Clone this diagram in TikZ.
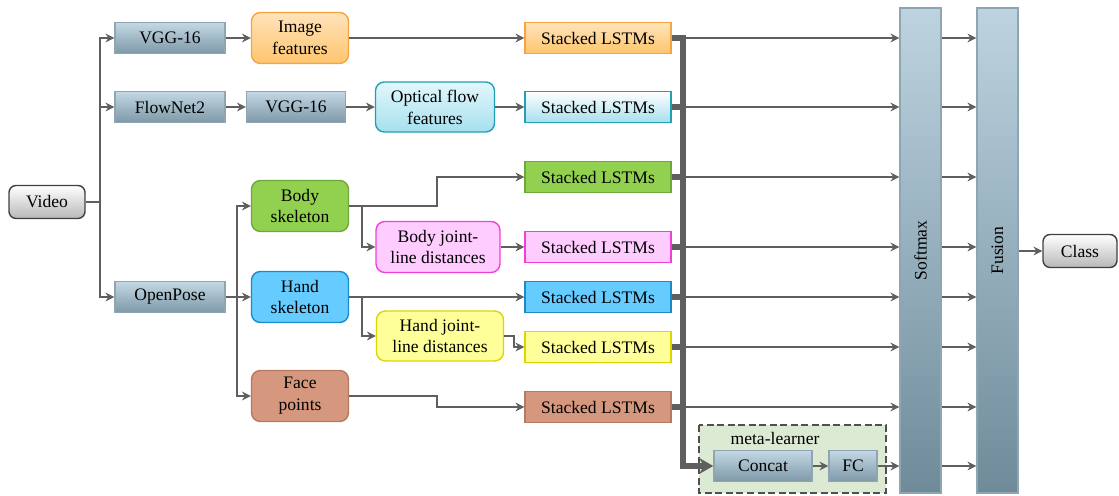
\documentclass[tikz,border=0pt]{standalone}
\usepackage{fontspec}
\setmainfont{Liberation Serif}
\usetikzlibrary{arrows.meta}

\definecolor{lineg}{HTML}{5F5F5F}
\definecolor{nettop}{HTML}{C3D8E4}
\definecolor{netbot}{HTML}{7E99A8}
\definecolor{netedge}{HTML}{8FA6B2}
\definecolor{bartop}{HTML}{BDD3E0}
\definecolor{barbot}{HTML}{6F8B9A}
\definecolor{orgtop}{HTML}{FFE3BA}
\definecolor{orgbot}{HTML}{FFC56E}
\definecolor{orgedge}{HTML}{F7A440}
\definecolor{cyantop}{HTML}{E2F7FC}
\definecolor{cyanbot}{HTML}{A6E0EE}
\definecolor{cyanedge}{HTML}{1FA0B3}
\definecolor{grnfill}{HTML}{92D050}
\definecolor{grnedge}{HTML}{6FA83A}
\definecolor{pnkfill}{HTML}{FFCCFF}
\definecolor{pnkedge}{HTML}{F040D8}
\definecolor{blufill}{HTML}{66CCFF}
\definecolor{bluedge}{HTML}{1A8AC8}
\definecolor{yelfill}{HTML}{FFFF99}
\definecolor{yeledge}{HTML}{DDD400}
\definecolor{brnfill}{HTML}{D5977D}
\definecolor{brnedge}{HTML}{B57A62}
\definecolor{endbot}{HTML}{B8B8B8}
\definecolor{endedge}{HTML}{404040}
\definecolor{metafill}{HTML}{DDEAD3}
\definecolor{metaedge}{HTML}{505050}

\tikzset{
  lbl/.style={inner sep=0pt, align=center, font=\fontsize{10}{12.5}\selectfont, text=black},
  box/.style={lbl, draw},
  netbox/.style={box, draw=netedge, top color=nettop, bottom color=netbot,
    minimum width=2.2cm, minimum height=0.62cm, line width=0.8pt},
  featbox/.style={box, rounded corners=5pt, minimum width=1.94cm, minimum height=1.02cm, line width=0.8pt},
  lstm/.style={box, minimum width=2.92cm, minimum height=0.62cm, line width=0.8pt},
  endbox/.style={box, draw=endedge, rounded corners=4pt, top color=white, bottom color=endbot,
    minimum width=1.52cm, minimum height=0.66cm, line width=0.8pt},
  bar/.style={draw=netedge, top color=bartop, bottom color=barbot, minimum width=0.82cm,
    minimum height=9.7cm, inner sep=0pt, line width=0.8pt},
  metabox/.style={draw=metaedge, fill=metafill, line width=1pt, dash pattern=on 4pt off 2pt},
  line/.style={draw=lineg, line width=1pt},
  arr/.style={line, -{Stealth[length=5pt,width=5pt]}},
  bus/.style={draw=lineg, line width=3pt},
}

\begin{document}
\begin{tikzpicture}[x=0.02cm, y=-0.02cm]
    \useasboundingbox (0,0) rectangle (1119,496);

    % input and first stage
    \node[endbox] (video) at (47,202) {Video};
    \node[netbox] (vgg) at (170,38) {VGG-16};
    \node[netbox] (flownet) at (170,107) {FlowNet2};
    \node[netbox, minimum width=1.98cm] (vggflow) at (296,107) {VGG-16};
    \node[netbox] (openpose) at (170,297) {OpenPose};

    % features
    \node[featbox, draw=orgedge, top color=orgtop, bottom color=orgbot] (imgfeat) at (300,38) {Image\\features};
    \node[featbox, draw=cyanedge, top color=cyantop, bottom color=cyanbot, minimum width=2.38cm, minimum height=1cm] (flowfeat) at (435,107) {Optical flow\\features};
    \node[featbox, draw=grnedge, fill=grnfill] (bodysk) at (300,206) {Body\\skeleton};
    \node[featbox, draw=pnkedge, fill=pnkfill, minimum width=2.48cm] (bodyjl) at (438,247) {Body joint-\\line distances};
    \node[featbox, draw=bluedge, fill=blufill] (handsk) at (300,297) {Hand\\skeleton};
    \node[featbox, draw=yeledge, fill=yelfill, minimum width=2.54cm, minimum height=1cm] (handjl) at (440,336) {Hand joint-\\line distances};
    \node[featbox, draw=brnedge, fill=brnfill] (face) at (300,396) {Face\\points};

    % one LSTM stack per stream
    \node[lstm, draw=orgedge, top color=orgtop, bottom color=orgbot] (lstmimg) at (598,38) {Stacked LSTMs};
    \node[lstm, draw=cyanedge, top color=white, bottom color=cyanbot] (lstmflow) at (598,107) {Stacked LSTMs};
    \node[lstm, draw=grnedge, fill=grnfill] (lstmbody) at (598,177) {Stacked LSTMs};
    \node[lstm, draw=pnkedge, fill=pnkfill] (lstmbjl) at (598,247) {Stacked LSTMs};
    \node[lstm, draw=bluedge, fill=blufill] (lstmhand) at (598,297) {Stacked LSTMs};
    \node[lstm, draw=yeledge, fill=yelfill] (lstmhjl) at (598,347) {Stacked LSTMs};
    \node[lstm, draw=brnedge, fill=brnfill] (lstmface) at (598,407) {Stacked LSTMs};

    % meta-learner
    \draw[metabox] (699,425) rectangle (886,493);
    \node[lbl] (metalbl) at (775,438) {meta-learner};
    \node[netbox, minimum width=1.96cm] (concat) at (763,466) {Concat};
    \node[netbox, minimum width=0.96cm] (fc) at (853,466) {FC};

    % output
    \node[bar] (softmax) at (920.5,250.5) {};
    \node[lbl, rotate=90] at (softmax) {Softmax};
    \node[bar] (fusion) at (997.5,250.5) {};
    \node[lbl, rotate=90] at (fusion) {Fusion};
    \node[endbox, minimum width=1.48cm] (class) at (1080,251) {Class};

    % video branches
    \coordinate (vsplit) at (100,202);
    \draw[line] (video) -- (vsplit);
    \draw[arr] (vsplit) |- (vgg);
    \draw[arr] (vsplit) -- (vsplit |- flownet) -- (flownet);
    \draw[arr] (vsplit) |- (openpose);
    \draw[arr] (vgg) -- (imgfeat);
    \draw[arr] (imgfeat) -- (lstmimg);
    \draw[arr] (flownet) -- (vggflow);
    \draw[arr] (vggflow) -- (flowfeat);
    \draw[arr] (flowfeat) -- (lstmflow);

    % pose branches
    \coordinate (osplit) at (237,297);
    \draw[line] (openpose) -- (osplit);
    \draw[arr] (osplit) |- (bodysk);
    \draw[arr] (osplit) -- (handsk);
    \draw[arr] (osplit) |- (face);
    \draw[arr] (bodysk.east) -- ++(88,0) |- (lstmbody);
    \draw[arr] (bodysk.east) -- ++(13,0) |- (bodyjl);
    \draw[arr] (bodyjl) -- (lstmbjl);
    \draw[arr] (handsk) -- (lstmhand);
    \draw[arr] (handsk.east) -- ++(13,0) |- (handjl);
    \draw[arr] (handjl.east) -- ++(10,0) |- (lstmhjl);
    \draw[arr] (face.east) -- ++(88,0) |- (lstmface);

    % collecting bus
    \coordinate (bustop) at (683,38);
    \draw[bus, line cap=rect, -{Stealth[length=8pt,width=9pt]}] (bustop) |- (concat);
    \foreach \n in {lstmimg,lstmflow,lstmbody,lstmbjl,lstmhand,lstmhjl,lstmface} {
        \draw[bus] (\n.east) -- (\n.east -| bustop);
        \draw[arr] (\n.east -| bustop) -- (\n.east -| softmax.west);
        \draw[arr] (\n.east -| softmax.east) -- (\n.east -| fusion.west);
    }
    \draw[arr] (concat) -- (fc);
    \draw[arr] (fc) -- (fc -| softmax.west);
    \draw[arr] (fc -| softmax.east) -- (fc -| fusion.west);
    \draw[arr] (fusion.east |- class) -- (class);
\end{tikzpicture}
\end{document}
